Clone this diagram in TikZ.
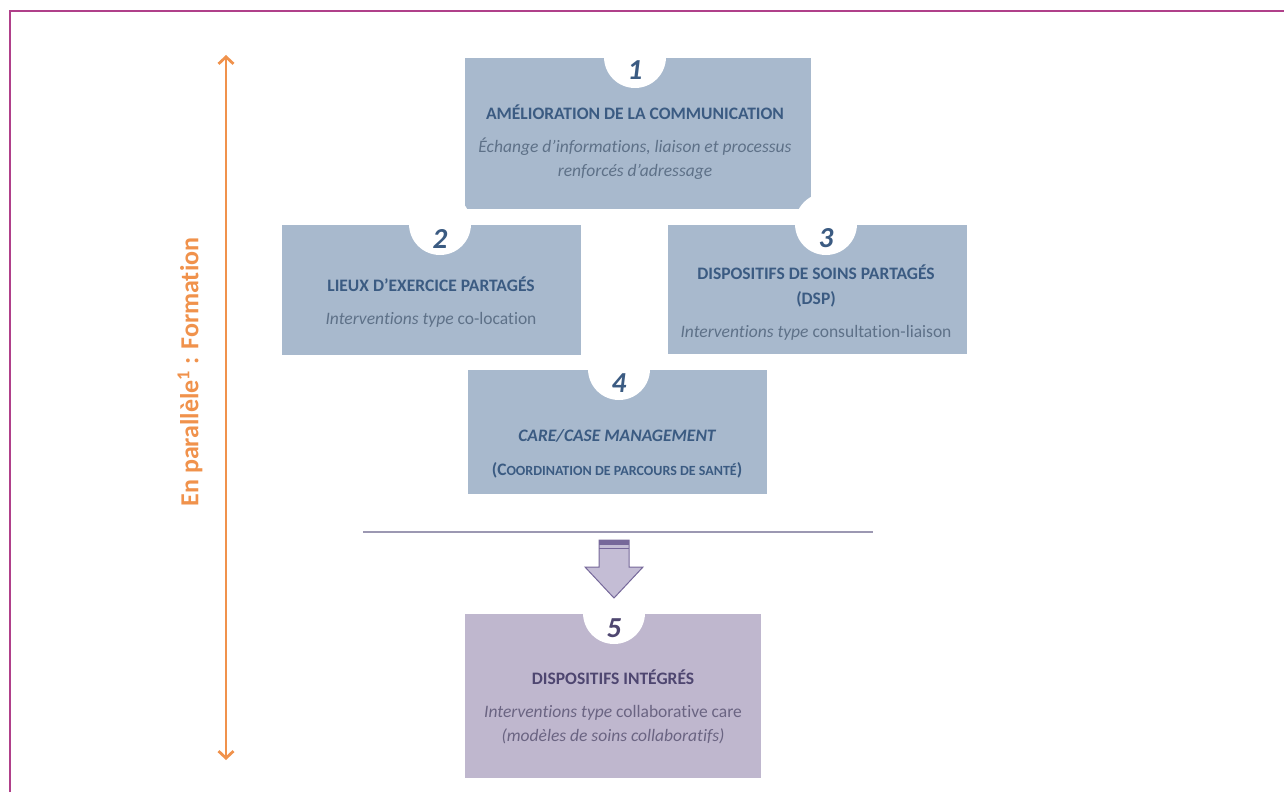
\documentclass[tikz,border=0pt]{standalone}
\usepackage{fontspec}
\setmainfont{Carlito}[Ligatures=NoCommon]
\usetikzlibrary{arrows.meta,positioning}

\definecolor{boxblue}{HTML}{A8B9CD}
\definecolor{boxlilac}{HTML}{BFB7CE}
\definecolor{inkblue}{HTML}{3B5B82}
\definecolor{greyblue}{HTML}{5E7188}
\definecolor{inkplum}{HTML}{4E4670}
\definecolor{greyplum}{HTML}{6A6482}
\definecolor{orangeline}{HTML}{F0924C}
\definecolor{framepink}{HTML}{B0408A}
\definecolor{rulegrey}{HTML}{9C98B2}
\definecolor{arrowfill}{HTML}{C4BDD5}
\definecolor{arrowline}{HTML}{76689A}

\tikzset{
  stage/.style={fill=boxblue, draw=none, inner sep=0pt, outer sep=0pt},
  notch/.style={circle, fill=white, draw=none, minimum size=62, inner sep=0pt},
  num/.style={font=\fontsize{29}{30}\selectfont\bfseries\itshape, text=inkblue, inner sep=0pt},
  ttl/.style={font=\fontsize{17.5}{25}\selectfont\bfseries, text=inkblue, align=center, inner sep=0pt},
  txt/.style={font=\fontsize{17.5}{24}\selectfont, text=greyblue, align=center, inner sep=0pt},
}

\begin{document}
\begin{tikzpicture}[x=1pt,y=-1pt]
    \useasboundingbox (0,0) rectangle (1284,792);
    
    % frame (top and left edges only)
    \draw[framepink, line width=2] (9.5,792) -- (9.5,11.5) -- (1284,11.5);
    
    % boxes
    \node[stage, minimum width=346, minimum height=151] (comm) at (638,133.5) {};
    \node[stage, minimum width=299, minimum height=130] (lieux) at (431.5,290) {};
    \node[stage, minimum width=299, minimum height=129] (dsp) at (817.5,289.5) {};
    \node[stage, minimum width=299, minimum height=124] (care) at (617.5,432) {};
    \node[stage, fill=boxlilac, minimum width=296, minimum height=164] (integ) at (613,696) {};
    
    % white notches on top of each box
    \node[notch] (c1) at (635,57) {};
    \node[notch] (c2) at (440,224) {};
    \node[notch] (c3) at (826,224) {};
    \node[notch] (c4) at (619,369) {};
    \node[notch] (c5) at (614,613) {};
    
    % numbers
    \node[num] (n1) at (635,70) {1};
    \node[num] (n2) at (440,239) {2};
    \node[num] (n3) at (826,238) {3};
    \node[num] (n4) at (619,383) {4};
    \node[num, text=inkplum] (n5) at (614,628) {5};
    
    % Text Node
    \node[ttl] (commT) at (635,112) {AMÉLIORATION DE LA COMMUNICATION};
    \node[txt, font=\fontsize{17.5}{24}\selectfont\itshape] (commS) at (635,159) {Échange d’informations, liaison et processus\\renforcés d’adressage};
    % Text Node
    \node[ttl] (lieuxT) at (431,284) {LIEUX D’EXERCICE PARTAGÉS};
    \node[txt] (lieuxS) at (431,320) {\textit{Interventions type} co-location};
    % Text Node
    \node[ttl] (dspT) at (816,285.5) {DISPOSITIFS DE SOINS PARTAGÉS\\(DSP)};
    \node[txt] (dspS) at (816,333) {\textit{Interventions type} consultation-liaison};
    % Text Node
    \node[ttl, font=\fontsize{17.5}{25}\selectfont\bfseries\itshape] (careT) at (617,436) {CARE/CASE MANAGEMENT};
    \node[ttl, font=\fontsize{17.5}{25}\selectfont\bfseries] (careS) at (617,470) {(C{\fontsize{14}{16}\selectfont OORDINATION DE PARCOURS DE SANTÉ})};
    % Text Node
    \node[ttl, text=inkplum] (integT) at (613,677) {DISPOSITIFS INTÉGRÉS};
    \node[txt, text=greyplum] (integS) at (613,725) {\textit{Interventions type} collaborative care\\\textit{(modèles de soins collaboratifs)}};
    
    % separator and block arrow down
    \coordinate (ruleL) at (363,532);
    \coordinate (ruleR) at (873,532);
    \draw[rulegrey, line width=1.5] (ruleL) -- (ruleR);
    \draw[fill=arrowfill, draw=arrowline, line width=1] (599,540) -- (629,540) -- (629,567) -- (643,567) -- (614,598) -- (585,567) -- (599,567) -- cycle;
    \fill[arrowline] (599,540) rectangle (629,545);
    \draw[arrowline, line width=1] (599,548.5) -- (629,548.5);
    
    % training runs alongside
    \coordinate (formTop) at (226,55);
    \coordinate (formBot) at (226,760);
    \draw[orangeline, line width=2.8, {Straight Barb[length=7pt,width=15pt]}-{Straight Barb[length=7pt,width=15pt]}] (formTop) -- (formBot);
    \node[rotate=90, text=orangeline, font=\fontsize{26}{28}\selectfont\bfseries, inner sep=0pt] (formLbl) at (190,372) {En parallèle\textsuperscript{1} : Formation};
    
\end{tikzpicture}
\end{document}
